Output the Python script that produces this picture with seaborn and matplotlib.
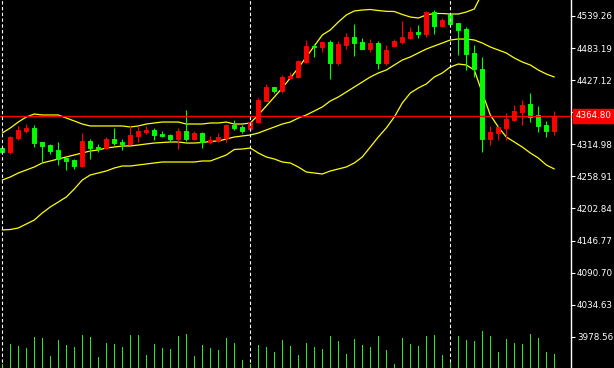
import numpy as np
import pandas as pd
import matplotlib
matplotlib.use("Agg")
import matplotlib.pyplot as plt
import matplotlib.transforms as mtransforms
import seaborn as sns

# ---------------- data ----------------
opens = [4308.5, 4301.5, 4326.0, 4338.2, 4343.5, 4319.0, 4313.7, 4305.0, 4291.0, 4287.5,
         4277.0, 4320.7, 4310.2, 4308.5, 4324.2, 4319.0, 4315.5, 4329.5, 4336.5, 4340.0,
         4333.0, 4331.2, 4324.2, 4338.2, 4324.2, 4334.7, 4319.0, 4320.7, 4326.0, 4348.7,
         4345.2, 4341.7, 4353.9, 4390.7, 4415.1, 4408.1, 4430.9, 4432.6, 4458.8, 4486.8,
         4485.0, 4493.8, 4457.1, 4488.5, 4502.5, 4493.8, 4481.5, 4492.0, 4457.1, 4486.8,
         4493.8, 4500.8, 4511.3, 4507.8, 4546.2, 4521.8, 4542.7, 4527.0, 4516.5, 4474.6,
         4446.6, 4324.2, 4334.7, 4343.5, 4357.4, 4371.4, 4385.4, 4366.2, 4348.7, 4338.2]
highs = [4310.2, 4329.5, 4347.0, 4350.4, 4348.7, 4319.0, 4315.5, 4319.0, 4291.0, 4289.3,
         4334.7, 4324.2, 4315.5, 4327.7, 4343.5, 4324.2, 4348.7, 4347.0, 4347.0, 4343.5,
         4338.2, 4333.0, 4343.5, 4374.9, 4338.2, 4336.5, 4329.5, 4334.7, 4350.4, 4357.4,
         4348.7, 4355.7, 4395.9, 4420.4, 4415.1, 4436.1, 4441.3, 4462.3, 4497.3, 4490.3,
         4493.8, 4497.3, 4495.5, 4509.5, 4525.2, 4500.8, 4499.0, 4495.5, 4488.5, 4499.0,
         4530.5, 4520.0, 4523.5, 4548.0, 4549.7, 4535.7, 4544.5, 4527.0, 4520.0, 4488.5,
         4467.6, 4347.0, 4347.0, 4369.7, 4383.7, 4392.4, 4404.6, 4381.9, 4355.7, 4373.2]
lows = [4299.8, 4298.0, 4322.5, 4334.7, 4310.2, 4284.0, 4298.0, 4278.8, 4270.0, 4271.8,
        4275.3, 4289.3, 4301.5, 4306.7, 4313.7, 4305.0, 4313.7, 4319.0, 4333.0, 4322.5,
        4327.7, 4319.0, 4306.7, 4320.7, 4322.5, 4308.5, 4315.5, 4319.0, 4319.0, 4340.0,
        4334.7, 4340.0, 4353.9, 4390.7, 4404.6, 4404.6, 4429.1, 4430.9, 4457.1, 4467.6,
        4476.3, 4429.1, 4453.6, 4481.5, 4469.3, 4481.5, 4476.3, 4446.6, 4453.6, 4486.8,
        4490.3, 4499.0, 4500.8, 4502.5, 4507.8, 4520.0, 4521.8, 4471.1, 4444.8, 4432.6,
        4301.5, 4313.7, 4322.5, 4322.5, 4355.7, 4348.7, 4353.9, 4336.5, 4327.7, 4331.2]
closes = [4301.5, 4327.7, 4340.0, 4343.5, 4317.2, 4312.0, 4303.3, 4289.3, 4285.8, 4277.0,
          4320.7, 4308.5, 4306.7, 4324.2, 4317.2, 4315.5, 4331.2, 4338.2, 4340.0, 4331.2,
          4329.5, 4324.2, 4338.2, 4324.2, 4334.7, 4319.0, 4322.5, 4327.7, 4348.7, 4343.5,
          4338.2, 4353.9, 4392.4, 4415.1, 4408.1, 4432.6, 4434.4, 4460.6, 4486.8, 4485.0,
          4493.8, 4457.1, 4490.3, 4502.5, 4492.0, 4481.5, 4492.0, 4457.1, 4479.8, 4495.5,
          4502.5, 4511.3, 4507.8, 4546.2, 4521.8, 4532.2, 4525.2, 4514.8, 4472.8, 4446.6,
          4324.2, 4336.5, 4345.2, 4359.2, 4373.2, 4383.7, 4362.7, 4347.0, 4338.2, 4364.8]
volumes = [400, 2400, 2200, 2000, 3100, 3000, 1200, 2800, 2300, 2100,
           3300, 3100, 1100, 2500, 2400, 2100, 3300, 3300, 1300, 2400,
           2000, 1900, 3200, 3400, 1200, 2300, 2000, 1800, 3000, 2500,
           800, 400, 2300, 2100, 1600, 2800, 2200, 1300, 2500, 2100,
           1900, 3200, 2700, 1400, 2900, 2300, 2100, 3200, 1800, 400,
           3000, 2400, 2200, 3200, 3300, 1300, 600, 3200, 2800, 2700,
           3700, 3200, 1600, 2900, 2500, 2400, 3400, 3000, 1600, 1400]
bb_upper = [4334.7, 4343.5, 4353.9, 4362.7, 4367.9, 4366.2, 4366.2, 4366.2, 4360.9, 4355.7,
            4350.4, 4347.0, 4347.0, 4347.0, 4347.0, 4347.0, 4345.2, 4347.0, 4350.4, 4352.2,
            4353.9, 4353.9, 4353.9, 4350.4, 4350.4, 4350.4, 4352.2, 4352.2, 4353.9, 4350.4,
            4350.4, 4352.2, 4366.2, 4381.9, 4397.6, 4413.4, 4430.9, 4448.3, 4467.6, 4486.8,
            4506.0, 4514.8, 4528.7, 4541.0, 4548.0, 4549.7, 4550.6, 4548.8, 4547.4, 4547.1,
            4541.9, 4537.5, 4535.7, 4541.0, 4543.6, 4543.6, 4542.7, 4542.7, 4546.2, 4551.5,
            4579.4, 4603.9, 4614.4, 4621.4, 4612.6, 4607.4, 4607.4, 4598.7, 4596.9, 4593.4]
bb_middle = [4252.6, 4257.8, 4264.8, 4270.0, 4275.3, 4282.3, 4285.8, 4289.3, 4292.8, 4296.3,
             4299.8, 4303.3, 4305.0, 4308.5, 4310.2, 4312.0, 4312.0, 4313.7, 4315.5, 4317.2,
             4318.1, 4319.0, 4319.0, 4317.2, 4317.2, 4318.1, 4319.9, 4320.7, 4324.2, 4327.7,
             4329.5, 4331.2, 4334.7, 4340.0, 4345.2, 4350.4, 4353.9, 4360.9, 4366.2, 4373.2,
             4380.2, 4390.7, 4397.6, 4406.4, 4415.1, 4423.9, 4432.6, 4439.6, 4444.8, 4453.6,
             4462.3, 4467.6, 4474.6, 4481.5, 4486.8, 4492.0, 4497.3, 4499.0, 4499.0, 4497.3,
             4492.0, 4485.0, 4479.8, 4474.6, 4465.8, 4458.8, 4453.6, 4444.8, 4437.8, 4432.6]
bb_lower = [4165.2, 4166.0, 4168.7, 4175.6, 4182.6, 4194.9, 4205.4, 4214.1, 4222.8, 4236.8,
            4252.6, 4261.3, 4264.8, 4268.3, 4273.5, 4277.0, 4277.0, 4278.8, 4280.5, 4282.3,
            4284.0, 4284.0, 4284.0, 4284.0, 4284.0, 4285.8, 4285.8, 4291.0, 4296.3, 4305.9,
            4306.7, 4308.5, 4299.8, 4292.8, 4289.3, 4284.0, 4282.3, 4275.3, 4266.5, 4264.8,
            4263.0, 4268.3, 4271.8, 4275.3, 4282.3, 4292.8, 4310.2, 4327.7, 4343.5, 4362.7,
            4387.2, 4404.6, 4413.4, 4420.4, 4432.6, 4439.6, 4450.1, 4455.3, 4453.6, 4444.8,
            4404.6, 4366.2, 4345.2, 4327.7, 4319.0, 4310.2, 4299.8, 4291.0, 4278.8, 4271.8]
day_starts = [0, 31, 56]
price_ticks = [3978.56, 4034.63, 4090.70, 4146.77, 4202.84, 4258.91,
               4314.98, 4371.05, 4427.12, 4483.19, 4539.26]

# ---------------- frame ----------------
df = pd.DataFrame({"bar": np.arange(len(opens)), "open": opens, "high": highs,
                   "low": lows, "close": closes, "volume": volumes,
                   "upper": bb_upper, "middle": bb_middle, "lower": bb_lower})
bands = df.melt(id_vars="bar", value_vars=["upper", "middle", "lower"],
                var_name="band", value_name="price")

UP = "#ff0000"
DOWN = "#00ff00"
VOL = "#2ee62e"

sns.set_theme(style="dark")
plt.rcParams["font.family"] = ["DejaVu Sans"]

fig = plt.figure(figsize=(6.14, 3.68), dpi=100, facecolor="black")
ax = fig.add_axes([0, 0, 571 / 614, 1])
ax.set_facecolor("black")

# volume on a twin axis
ax2 = ax.twinx()
ax2.vlines(df["bar"], 0, df["volume"], colors=VOL, lw=0.72, antialiased=False)
ax2.set_ylim(0, 36800)
ax2.set_axis_off()

# bollinger bands
sns.lineplot(data=bands, x="bar", y="price", hue="band", units="band", estimator=None,
             palette={"upper": "#ffff00", "middle": "#ffff00", "lower": "#ffff00"},
             lw=0.9, legend=False, ax=ax, zorder=2)

# candles
colors = np.where(df["close"] >= df["open"], UP, DOWN)
ax.vlines(df["bar"], df["low"], df["high"], colors=colors, lw=0.8, zorder=3)
ax.bar(df["bar"], (df["close"] - df["open"]).abs(),
       bottom=np.minimum(df["open"], df["close"]), width=0.5,
       color=colors, edgecolor=colors, linewidth=0.7, zorder=4)

# current price line
last = df["close"].iloc[-1]
ax.axhline(last, color="red", lw=1.0, zorder=5)

# day separators
for d in day_starts:
    ax.axvline(d, color="white", lw=0.8, ls=(0, (3, 2.2)), zorder=6)

ax.set_xlim(-0.2875, 71.0875)
ax.set_ylim(3923.9, 4567.2)
ax.set_xlabel("")
ax.set_ylabel("")
ax.set_xticks([])
ax.yaxis.tick_right()
ax.set_yticks(price_ticks)
ax.set_yticklabels([f"{t:.2f}" for t in price_ticks])
ax.tick_params(axis="y", colors="white", length=3, width=0.8, pad=1.2,
               labelsize=6.3, direction="out")
ax.grid(False)
for s in ["top", "left", "bottom"]:
    ax.spines[s].set_visible(False)
ax.spines["right"].set_color("white")
ax.spines["right"].set_linewidth(1.0)

trans = mtransforms.blended_transform_factory(ax.transAxes, ax.transData)
ax.text(1.008, last, f"{last:.2f}", transform=trans, ha="left", va="center",
        color="white", fontsize=6.3, zorder=20, clip_on=False,
        bbox=dict(boxstyle="square,pad=0.3", fc="red", ec="red"))

fig.savefig("out.png", dpi=100, facecolor="black")
